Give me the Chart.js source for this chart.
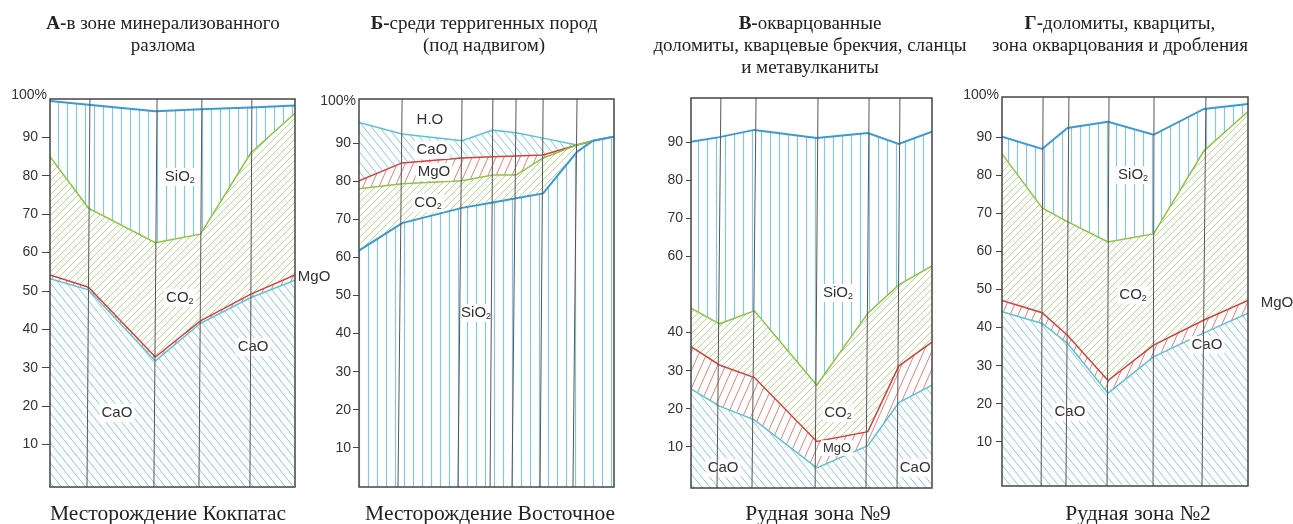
<!DOCTYPE html>
<html>
<head>
<meta charset="utf-8">
<script src="https://cdn.jsdelivr.net/npm/chart.js@4.4.0/dist/chart.umd.min.js"></script>
<style>
    body { margin: 0; background: #fff; width: 1293px; height: 524px; position: relative; overflow: hidden; }
    canvas { position: absolute; top: 0; }
    .cap { position: absolute; width: 400px; text-align: center; white-space: nowrap;
           font-family: "Liberation Serif", "Times New Roman", serif; color: #222; }
    .title { font-size: 19px; line-height: 22px; top: 12px; }
    .foot { font-size: 21.5px; line-height: 24px; top: 501px; }
</style>
</head>
<body>
<script>
// Panel А - Кокпатас (cumulative boundaries, % from bottom)
const xA = [0, 15.7, 43, 61.4, 82, 100];
const caoA = [53.2, 50.3, 31.8, 41.6, 48.3, 52.8];
const mgoA = [54.2, 51, 32.8, 42.2, 49.2, 54.2];
const co2A = [85, 71.6, 62.6, 64.8, 86, 96.3];
const sio2A = [99.5, 98.5, 96.8, 97.3, 97.8, 98.3];
const wellsTopA = [16.3, 43.7, 62, 82.4];
const wellsBottomA = [15.1, 42.4, 60.8, 81.6];
const ticksA = [10, 20, 30, 40, 50, 60, 70, 80, 90];

// Panel Б - Восточное (order from bottom: SiO2, CO2, MgO, CaO, H2O)
const xB = [0, 16.9, 40.4, 52.5, 61.6, 72.2, 85.5, 91.8, 100];
const sio2B = [61.8, 69, 73, 74.4, 75.5, 76.8, 87.7, 90.6, 91.7];
const co2B = [78, 79.3, 80.1, 81.6, 81.6, 86.1, 89.5, 90.6, 91.7];
const mgoB = [80.1, 84.8, 86.1, 86.4, 86.6, 86.9, 89.5, 90.6, 91.7];
const caoB = [95.4, 92.4, 90.6, 93.4, 92.7, 91.3, 89.5, 90.6, 91.7];
const wellsTopB = [16.9, 40.4, 52.5, 61.6, 72.2, 85.5];
const wellsBottomB = [15.3, 38.8, 51.4, 60, 71, 83.9];
const ticksB = [10, 20, 30, 40, 50, 60, 70, 80, 90];

// Panel В - Рудная зона №9
const xC = [0, 11.8, 26.3, 52.2, 73.4, 86.2, 100];
const caoC = [25.2, 20.7, 17.1, 4.5, 10.3, 21.6, 26.2];
const mgoC = [36.3, 31.5, 28.2, 11.4, 14, 31.2, 37.5];
const co2C = [46.4, 42.3, 45.7, 26.2, 45.1, 52.5, 57.5];
const sio2C = [90.1, 91.3, 93.2, 91.1, 92.4, 89.5, 92.7];
const wellsTopC = [12.4, 27, 52.7, 73.9, 86.7];
const wellsBottomC = [10.8, 25.3, 51.5, 72.6, 85.5];
const ticksC = [10, 20, 30, 40, 60, 70, 80, 90];

// Panel Г - Рудная зона №2
const xD = [0, 16.3, 26.6, 43.1, 61.6, 82.1, 100];
const caoD = [44.2, 41.1, 35.9, 22.8, 32.3, 38.6, 43.8];
const mgoD = [47.1, 43.9, 38, 26.1, 35.4, 42, 47.1];
const co2D = [85.6, 71.4, 67.8, 62.5, 64.6, 86.4, 96.7];
const sio2D = [90.1, 86.9, 92.4, 94, 90.6, 97.4, 98.7];
const wellsTopD = [16.7, 27.2, 43.5, 61.8, 82.9];
const wellsBottomD = [15.9, 26, 42.7, 61.4, 81.3];
const ticksD = [10, 20, 30, 40, 50, 60, 70, 80, 90];

// Area labels: [text, subscript, x, y, size, white background]
const labelsA = [['SiO', '2', 53, 79.7, 15, true], ['CO', '2', 53, 48.2, 15, true],
    ['CaO', '', 82.9, 35.4, 15, true], ['CaO', '', 27.3, 18.2, 15, true], ['MgO', '', 107.8, 53.7, 15, false]];
const labelsB = [['H.O', '', 27.8, 96.1, 15, true], ['CaO', '', 28.6, 88.2, 15, true],
    ['MgO', '', 29.4, 82.4, 15, true], ['CO', '2', 27.1, 74.3, 15, true], ['SiO', '2', 45.9, 45.4, 15, true]];
const labelsC = [['SiO', '2', 61, 50.4, 15, true], ['CO', '2', 61, 18.9, 15, true],
    ['MgO', '', 60.6, 9.7, 13, true], ['CaO', '', 13.3, 4.5, 15, true], ['CaO', '', 93, 4.5, 15, true]];
const labelsD = [['SiO', '2', 53.3, 80, 15, true], ['CO', '2', 53.3, 48.6, 15, true],
    ['CaO', '', 83.3, 35.4, 15, true], ['CaO', '', 27.6, 17.8, 15, true], ['MgO', '', 111.8, 46.5, 15, false]];

const titles = [
    ['<b>А-</b>в зоне минерализованного', 'разлома'],
    ['<b>Б-</b>среди терригенных пород', '(под надвигом)'],
    ['<b>В-</b>окварцованные', 'доломиты, кварцевые брекчия, сланцы', 'и метавулканиты'],
    ['<b>Г-</b>доломиты, кварциты,', 'зона окварцования и дробления']
];
const footers = ['Месторождение Кокпатас', 'Месторождение Восточное', 'Рудная зона №9', 'Рудная зона №2'];

const SANS = '"Liberation Sans", Arial, sans-serif';

// Hatch pattern tiles
function makeHatch(color, kind, w, h, lw) {
    const c = document.createElement('canvas');
    c.width = w;
    c.height = h;
    const g = c.getContext('2d');
    g.strokeStyle = color;
    g.lineWidth = lw || 1;
    g.beginPath();
    if (kind === 'v') {
        g.moveTo(w / 2, 0);
        g.lineTo(w / 2, h);
    } else {
        for (let k = -1; k <= 1; k++) {
            if (kind === 'fwd') { g.moveTo(k * w, h); g.lineTo((k + 1) * w, 0); }
            else { g.moveTo(k * w, 0); g.lineTo((k + 1) * w, h); }
        }
    }
    g.stroke();
    return g.createPattern(c, 'repeat');
}

const styles = {
    sio2: { line: '#3a9ad6', width: 2, fill: makeHatch('#86c6e4', 'v', 9, 4, 1.2) },
    co2: { line: '#8dc540', width: 1.5, fill: makeHatch('#b9da90', 'fwd', 7, 7, 1) },
    mgo: { line: '#d6403b', width: 1.5, fill: makeHatch('#e5807c', 'fwd', 8, 18, 1) },
    cao: { line: '#5dc3d4', width: 1.5, fill: makeHatch('#86ccd9', 'back', 8, 10, 1) }
};

const panels = [
    { left: 0, width: 335, area: [50, 295, 99, 487], yMin: -1.04, yMax: 100, tickLen: 8, tickPad: 4,
      x: xA, layers: [['cao', caoA], ['mgo', mgoA], ['co2', co2A], ['sio2', sio2A]],
      wellsTop: wellsTopA, wellsBottom: wellsBottomA, ticks: ticksA, labels: labelsA, top100: true, cx: 163, fx: 168 },
    { left: 310, width: 315, area: [359, 614, 99, 487], yMin: -0.26, yMax: 101.57, tickLen: 6, tickPad: 2,
      x: xB, layers: [['sio2', sio2B], ['co2', co2B], ['mgo', mgoB], ['cao', caoB]],
      wellsTop: wellsTopB, wellsBottom: wellsBottomB, ticks: ticksB, labels: labelsB, top100: true, cx: 484, fx: 490 },
    { left: 640, width: 300, area: [691, 932, 98, 488], yMin: -0.79, yMax: 101.57, tickLen: 5, tickPad: 3,
      x: xC, layers: [['cao', caoC], ['mgo', mgoC], ['co2', co2C], ['sio2', sio2C]],
      wellsTop: wellsTopC, wellsBottom: wellsBottomC, ticks: ticksC, labels: labelsC, top100: false, cx: 810, fx: 818 },
    { left: 950, width: 343, area: [1002, 1248, 97, 486], yMin: -1.57, yMax: 100.52, tickLen: 6, tickPad: 4,
      x: xD, layers: [['cao', caoD], ['mgo', mgoD], ['co2', co2D], ['sio2', sio2D]],
      wellsTop: wellsTopD, wellsBottom: wellsBottomD, ticks: ticksD, labels: labelsD, top100: true, cx: 1120, fx: 1138 }
];

const AXIS_W = 46;

// Draw a label with an optional subscript
function drawLabel(ctx, x, y, main, sub, size, bg) {
    const subSize = Math.round(size * 0.62);
    ctx.font = size + 'px ' + SANS;
    const w1 = ctx.measureText(main).width;
    ctx.font = subSize + 'px ' + SANS;
    const w2 = sub ? ctx.measureText(sub).width : 0;
    const left = x - (w1 + w2) / 2;
    if (bg) {
        ctx.fillStyle = '#fff';
        ctx.fillRect(left - 2, y - size * 0.6, w1 + w2 + 4, size * 1.2);
    }
    ctx.fillStyle = '#333';
    ctx.textAlign = 'left';
    ctx.textBaseline = 'middle';
    ctx.font = size + 'px ' + SANS;
    ctx.fillText(main, left, y);
    if (sub) {
        ctx.font = subSize + 'px ' + SANS;
        ctx.fillText(sub, left + w1, y + size * 0.22);
    }
}

// Labels, boreholes and frame
function makeDecor(p) {
    return {
        id: 'decor',
        afterDatasetsDraw(chart) {
            const ctx = chart.ctx;
            const xs = chart.scales.x, ys = chart.scales.y;
            const a = chart.chartArea;
            ctx.save();
            p.labels.forEach(l => {
                drawLabel(ctx, xs.getPixelForValue(l[2]), ys.getPixelForValue(l[3]), l[0], l[1], l[4], l[5]);
            });
            ctx.strokeStyle = '#555';
            ctx.lineWidth = 1;
            p.wellsTop.forEach((t, i) => {
                ctx.beginPath();
                ctx.moveTo(xs.getPixelForValue(t), a.top);
                ctx.lineTo(xs.getPixelForValue(p.wellsBottom[i]), a.bottom);
                ctx.stroke();
            });
            ctx.strokeStyle = '#444';
            ctx.lineWidth = 1.5;
            ctx.strokeRect(a.left, a.top, a.right - a.left, a.bottom - a.top);
            if (p.top100) {
                ctx.font = '14px ' + SANS;
                ctx.fillStyle = '#333';
                ctx.textAlign = 'right';
                ctx.textBaseline = 'middle';
                ctx.fillText('100%', a.left - 3, ys.getPixelForValue(100) - 4);
            }
            ctx.restore();
        }
    };
}

function createPanel(p) {
    const canvas = document.createElement('canvas');
    canvas.width = p.width;
    canvas.height = 524;
    canvas.style.left = p.left + 'px';
    document.body.appendChild(canvas);

    const datasets = p.layers.map((layer, i) => {
        const st = styles[layer[0]];
        return {
            data: p.x.map((x, j) => ({ x: x, y: layer[1][j] })),
            borderColor: st.line,
            borderWidth: st.width,
            backgroundColor: st.fill,
            fill: i === 0 ? 'start' : '-1',
            pointRadius: 0,
            tension: 0
        };
    });

    new Chart(canvas.getContext('2d'), {
        type: 'line',
        data: { datasets: datasets },
        options: {
            responsive: false,
            animation: false,
            events: [],
            layout: {
                padding: {
                    left: p.area[0] - p.left - AXIS_W,
                    right: p.left + p.width - p.area[1],
                    top: p.area[2],
                    bottom: 524 - p.area[3]
                }
            },
            plugins: {
                legend: { display: false },
                tooltip: { enabled: false },
                filler: { drawTime: 'beforeDatasetsDraw' }
            },
            scales: {
                x: { type: 'linear', min: 0, max: 100, display: false },
                y: {
                    min: p.yMin,
                    max: p.yMax,
                    afterBuildTicks: s => { s.ticks = p.ticks.map(v => ({ value: v })); },
                    afterFit: s => { s.width = AXIS_W; },
                    border: { display: false },
                    grid: { drawOnChartArea: false, drawTicks: true, tickLength: p.tickLen, color: '#444' },
                    ticks: {
                        autoSkip: false,
                        padding: p.tickPad,
                        color: '#333',
                        font: { family: SANS, size: 14 },
                        callback: v => String(v)
                    }
                }
            }
        },
        plugins: [makeDecor(p)]
    });
}

function addCaption(cls, cx, lines) {
    const d = document.createElement('div');
    d.className = 'cap ' + cls;
    d.style.left = (cx - 200) + 'px';
    d.innerHTML = lines.join('<br>');
    document.body.appendChild(d);
}

panels.forEach((p, i) => {
    createPanel(p);
    addCaption('title', p.cx, titles[i]);
    addCaption('foot', p.fx, [footers[i]]);
});
</script>
</body>
</html>
